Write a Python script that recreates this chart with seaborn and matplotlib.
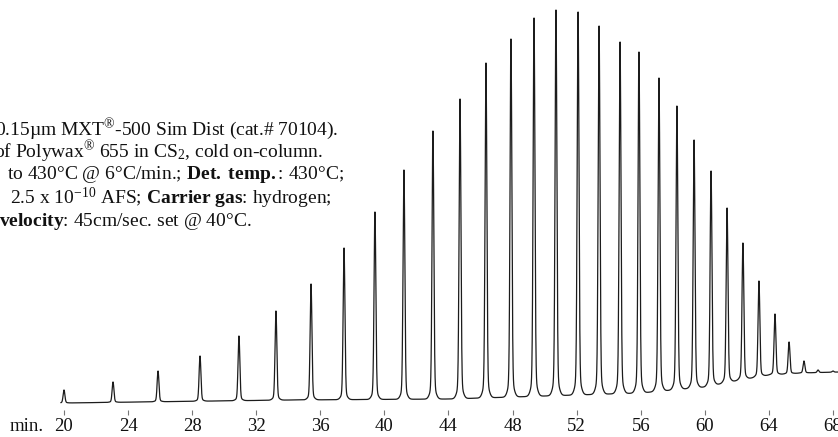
import numpy as np
import pandas as pd
import matplotlib.pyplot as plt
import seaborn as sns

# -----------------------------------------
#  Data
# -----------------------------------------

# retention time of each peak (min) and apex response (arbitrary units)
PEAK_TIMES = [20.00, 23.06, 25.87, 28.49, 30.92, 33.23, 35.42, 37.48, 39.41, 41.22,
              43.03, 44.72, 46.34, 47.90, 49.34, 50.71, 52.09, 53.40, 54.71, 55.89,
              57.14, 58.26, 59.33, 60.39, 61.39, 62.38, 63.38, 64.38, 65.26, 66.19,
              67.07, 68.00]
PEAK_APEX = [20, 28, 39, 54, 74, 99, 126, 162, 198, 240,
             279, 311, 347, 371, 392, 400, 398, 384, 368, 358,
             332, 304, 270, 239, 202, 167, 129, 96, 68, 49,
             40, 39]

# baseline drift
BASE_TIMES = [19.8, 20.0, 34.1, 44.1, 52.0, 56.0, 60.0, 62.2, 64.0, 66.0, 68.4]
BASE_LEVEL = [7, 7, 10, 11, 15, 17, 23, 30, 35, 37, 38]

TICKS = list(range(20, 69, 4))

# caption lines (left edge of the block is cut off in the original)
CAPTION = [
    (-5, 129, r"0.15µm MXT$^{®}$-500 Sim Dist (cat.# 70104)."),
    (-6, 152, r"of Polywax$^{®}$ 655 in CS$_{2}$, cold on-column."),
    (7, 175, r"to 430°C @ 6°C/min.; $\mathbf{Det.\ temp.}$: 430°C;"),
    (10, 198, r"2.5 x 10$^{-10}$ AFS; $\mathbf{Carrier\ gas}$: hydrogen;"),
    (-1, 221, r"$\mathbf{velocity}$: 45cm/sec. set @ 40°C."),
]

# -----------------------------------------
#  Build trace
# -----------------------------------------

t = np.arange(BASE_TIMES[0], BASE_TIMES[-1], 0.005)
base = np.interp(t, BASE_TIMES, BASE_LEVEL)
signal = base.copy()
for rt, apex in zip(PEAK_TIMES, PEAK_APEX):
    h = apex - np.interp(rt, BASE_TIMES, BASE_LEVEL)
    narrow = np.exp(-0.5 * ((t - rt) / 0.055) ** 2)
    foot = np.exp(-0.5 * ((t - rt) / 0.16) ** 2)
    signal += h * (0.95 * narrow + 0.05 * foot)
trace = pd.DataFrame({"time": t, "response": signal})

# -----------------------------------------
#  Plot
# -----------------------------------------

sns.set_theme(style="white")
plt.rcParams.update({
    "font.family": ["Liberation Serif", "DejaVu Serif"],
    "mathtext.fontset": "custom",
    "mathtext.rm": "Liberation Serif",
    "mathtext.it": "Liberation Serif:italic",
    "mathtext.bf": "Liberation Serif:bold",
})

W, H = 838, 437
fig = plt.figure(figsize=(W / 100, H / 100), dpi=100)
ax = fig.add_axes([0, (H - 410) / H, 1, 410 / H])

px_per_min = 16.02
ax.set_xlim(20 - 64 / px_per_min, 20 + (W - 64) / px_per_min)
ax.set_ylim(0, 410)

sns.lineplot(data=trace, x="time", y="response", ax=ax, sort=False,
             estimator=None, color="#1c1c1c", linewidth=0.9)

for s in ax.spines.values():
    s.set_visible(False)
ax.set_xticks(TICKS)
ax.set_xticklabels([str(v) for v in TICKS], fontsize=13.5, color="#111111")
ax.tick_params(axis="x", direction="out", length=3.5, width=0.8,
               color="#777777", pad=2, bottom=True)
ax.set_yticks([])
ax.set_xlabel("")
ax.set_ylabel("")

fig.text(10 / W, 1 - 431 / H, "min.", fontsize=13.5, color="#111111",
         ha="left", va="baseline")

for x0, y0, line in CAPTION:
    fig.text(x0 / W, 1 - y0 / H, line, fontsize=14, color="#111111",
             ha="left", va="center")

fig.savefig("out.png", dpi=100, facecolor="white")
